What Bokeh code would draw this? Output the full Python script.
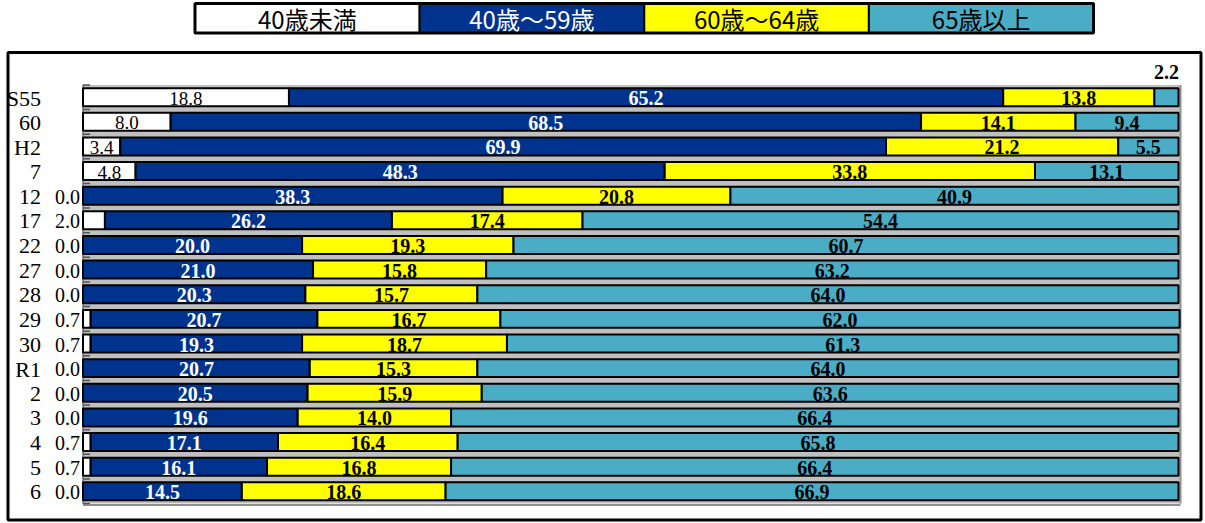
from bokeh.plotting import figure
from bokeh.models import Range1d
from bokeh.core.properties import value
from bokeh.embed import file_html
from bokeh.resources import INLINE

# ---------------- data ----------------
categories = ["S55", "60", "H2", "7", "12", "17", "22", "27", "28", "29", "30",
              "R1", "2", "3", "4", "5", "6"]
under40 = [18.8, 8.0, 3.4, 4.8, 0.0, 2.0, 0.0, 0.0, 0.0, 0.7, 0.7, 0.0, 0.0, 0.0, 0.7, 0.7, 0.0]
age40_59 = [65.2, 68.5, 69.9, 48.3, 38.3, 26.2, 20.0, 21.0, 20.3, 20.7, 19.3, 20.7, 20.5, 19.6, 17.1, 16.1, 14.5]
age60_64 = [13.8, 14.1, 21.2, 33.8, 20.8, 17.4, 19.3, 15.8, 15.7, 16.7, 18.7, 15.3, 15.9, 14.0, 16.4, 16.8, 18.6]
age65_over = [2.2, 9.4, 5.5, 13.1, 40.9, 54.4, 60.7, 63.2, 64.0, 62.0, 61.3, 64.0, 63.6, 66.4, 65.8, 66.4, 66.9]
series_names = ["40歳未満", "40歳～59歳", "60歳～64歳", "65歳以上"]

# ---------------- styles ----------------
colors = ["#FFFFFF", "#00338D", "#FFFF00", "#4BACC6"]
label_colors = ["black", "white", "black", "black"]
label_styles = ["normal", "bold", "bold", "bold"]
label_sizes = ["19px", "20px", "20px", "20px"]
SERIF = value("Liberation Serif")
SANS = value("Noto Sans CJK JP")

W, H = 1205, 523
SCALE = 10.955     # px per percent
X0 = 82.5          # canvas px of 0 %
RH = 24.63         # px per row
Y0 = 96.7          # canvas px of first row centre


def dx(px):
    return (px - X0) / SCALE


def dy(py):
    return (py - Y0) / RH


p = figure(width=W, height=H, output_backend="svg", toolbar_location=None,
           x_range=Range1d(dx(0), dx(W)), y_range=Range1d(dy(H), dy(0)),
           min_border=0, x_axis_location=None, y_axis_location=None)
p.grid.visible = False
p.outline_line_color = None
p.background_fill_color = "white"
p.border_fill_color = "white"

n = len(categories)
rows = list(range(n))

# outer frame
p.quad(left=dx(7.5), right=dx(1200.5), top=dy(52), bottom=dy(519.5),
       fill_color=None, line_color="black", line_width=3)

# plot area background + shadow
p.quad(left=0, right=100 + 2 / SCALE, top=-0.5, bottom=n - 0.5,
       fill_color="#C0C0C0", line_color=None)
p.segment(x0=[0, 100 + 2 / SCALE], y0=[n - 0.5 + 1.5 / RH, -0.5],
          x1=[100 + 2 / SCALE, 100 + 2 / SCALE], y1=[n - 0.5 + 1.5 / RH, n - 0.5],
          line_color="#909090", line_width=2)
p.segment(x0=0, y0=-0.5, x1=0, y1=n - 0.5, line_color="#6E6E6E", line_width=1.5)
bounds = [r - 0.5 for r in range(n + 1)]
p.segment(x0=[0] * len(bounds), y0=bounds, x1=[7 / SCALE] * len(bounds), y1=bounds,
          line_color="#555555", line_width=1.5)

# stacked bars
series = [under40, age40_59, age60_64, age65_over]
lefts = [0.0] * n
for k, vals in enumerate(series):
    rights = [l + v for l, v in zip(lefts, vals)]
    p.hbar(y=rows, left=lefts, right=rights, height=0.73,
           fill_color=colors[k], line_color="black", line_width=2)
    in_x, in_y, in_t = [], [], []
    out_x, out_y, out_t = [], [], []
    for r, (l, v) in enumerate(zip(lefts, vals)):
        if v >= 3:
            in_x.append(l + v / 2)
            in_y.append(r)
            in_t.append(f"{v:.1f}")
        else:
            out_x.append(l + v / 2)
            out_y.append(r)
            out_t.append(f"{v:.1f}")
    p.text(x=in_x, y=in_y, text=in_t, text_align="center", text_baseline="middle",
           y_offset=1, text_font=SERIF, text_font_size=label_sizes[k],
           text_font_style=label_styles[k], text_color=label_colors[k])
    if k == 0:
        p.text(x=[0] * len(out_x), y=out_y, text=out_t, text_align="right",
               text_baseline="middle", x_offset=-3, y_offset=1, text_font=SERIF,
               text_font_size="20px", text_color="black")
    elif out_t:
        p.text(x=out_x, y=out_y, text=out_t, text_align="center",
               text_baseline="middle", y_offset=-25, text_font=SERIF,
               text_font_size="20px", text_font_style="bold", text_color="black")
    lefts = rights

# category labels
p.text(x=[0] * n, y=rows, text=categories, text_align="right", text_baseline="middle",
       x_offset=-42, y_offset=1, text_font=SERIF, text_font_size="22px",
       text_color="black")

# legend (top)
LG_L, LG_R, LG_T, LG_B = 194.5, 1093, 3, 32.5
cw = (LG_R - LG_L) / len(series_names)
p.quad(left=[dx(LG_L + i * cw) for i in range(4)],
       right=[dx(LG_L + (i + 1) * cw) for i in range(4)],
       top=dy(LG_T), bottom=dy(LG_B), fill_color=colors,
       line_color="black", line_width=2)
p.quad(left=dx(LG_L), right=dx(LG_R), top=dy(LG_T), bottom=dy(LG_B),
       fill_color=None, line_color="black", line_width=3)
p.text(x=[dx(LG_L + (i + 0.5) * cw) for i in range(4)], y=[dy((LG_T + LG_B) / 2)] * 4,
       text=series_names, text_align="center", text_baseline="middle",
       text_font=SANS, text_font_size="24px", text_color=label_colors)

open("out.html", "w").write(file_html(p, INLINE))
